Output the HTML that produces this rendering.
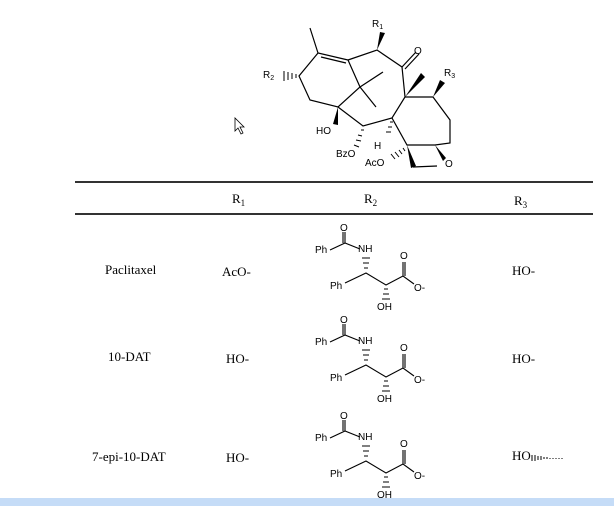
<!DOCTYPE html>
<html><head><style>
html,body{margin:0;padding:0;background:#fff;width:614px;height:506px;overflow:hidden}
svg{display:block}
.t{font-family:"Liberation Serif",serif;font-size:13px;fill:#000}
.s{font-family:"Liberation Sans",sans-serif;font-size:10px;fill:#000}
</style></head><body>
<svg width="614" height="506" viewBox="0 0 614 506">
<g stroke="#000" stroke-width="1.2" fill="none">
<path d="M310 28 L318 53 L348 60"/>
<path d="M321 57 L346 63"/>
<path d="M318 53 L299 76 L310 100 L338 107 L360 87 L348 60"/>
<path d="M360 87 L383 72 M360 87 L376 107"/>
<path d="M338 107 L363 126 L392 118 L405 97 L402 67 L377 50 L348 60"/>
<path d="M402 67 L416 52 M405 69 L419 54"/>
<path d="M405 97 L433 97 L450 120 L450 143 L435 145 L407 145 L392 118"/>
<path d="M413 167 L437 166"/>
</g>
<g fill="#000">
<polygon points="377,50 380,32 385,33"/>
<polygon points="405,97 421,73 425,77"/>
<polygon points="433,97 440,80 445,83"/>
<polygon points="338,107 333,124 338,125"/>
<polygon points="407,145 411,168 416,166"/>
<polygon points="435,145 446,158 443,161"/>
</g>
<g stroke="#000" stroke-width="1">
<path d="M296 74 L296 78 M292 73 L292 79 M288 72 L288 80 M284 71 L284 81"/>
<path d="M361 130 L364 130 M358 135 L362 136 M356 140 L361 141 M354 145 L359 147"/>
<path d="M390 122 L393 122 M388 127 L392 127 M386 132 L391 132"/>
<path d="M403 148 L405 151 M399 150 L402 154 M395 152 L399 157 M391 154 L395 159"/>
</g>
<text class="s" x="372" y="27">R<tspan font-size="7" dy="2">1</tspan></text>
<text class="s" x="414" y="54">O</text>
<text class="s" x="444" y="76">R<tspan font-size="7" dy="2">3</tspan></text>
<text class="s" x="263" y="78">R<tspan font-size="7" dy="2">2</tspan></text>
<text class="s" x="316" y="134">HO</text>
<text class="s" x="374" y="149">H</text>
<text class="s" x="336" y="157">BzO</text>
<text class="s" x="365" y="166">AcO</text>
<text class="s" x="445" y="167">O</text>
<path d="M235 118 L235 131 L238 128 L241 134 L243 133 L240 127 L244 127 Z" fill="#fff" stroke="#000" stroke-width="0.8"/>
<rect x="75" y="181" width="518" height="2" fill="#333"/>
<rect x="75" y="213" width="518" height="2" fill="#333"/>
<text class="t" x="232" y="203">R<tspan font-size="9" dy="3">1</tspan></text>
<text class="t" x="364" y="203">R<tspan font-size="9" dy="3">2</tspan></text>
<text class="t" x="514" y="205">R<tspan font-size="9" dy="3">3</tspan></text>
<text class="t" x="105" y="274">Paclitaxel</text>
<text class="t" x="222" y="276">AcO-</text>
<text class="t" x="512" y="275">HO-</text>
<text class="t" x="108" y="361">10-DAT</text>
<text class="t" x="226" y="363">HO-</text>
<text class="t" x="512" y="363">HO-</text>
<text class="t" x="92" y="461">7-epi-10-DAT</text>
<text class="t" x="226" y="462">HO-</text>
<text class="t" x="512" y="460">HO</text>
<g stroke="#000" stroke-width="1"><path d="M532 455 L532 461 M535 455 L535 461 M538 456 L538 460 M541 456 L541 460 M544 457 L544 459 M547 457 L547 459 M550 458 L550 459 M553 458 L553 459 M556 458 L556 459 M559 458 L559 459 M562 458 L562 459"/></g>
<defs>
<g id="sc">
<g stroke="#000" stroke-width="1.1" fill="none">
<path d="M330 250 L345 243 L360 249 M345 243 L345 232 M343 243 L343 232"/>
<path d="M345 283 L366 273 L386 285 L403 276 L414 284 M403 276 L403 262 M405 276 L405 262"/>
</g>
<g stroke="#000" stroke-width="1">
<path d="M364 268 L368 268 M363 263 L369 263 M362 258 L370 258"/>
<path d="M384 289 L388 289 M383 294 L389 294 M382 299 L390 299"/>
</g>
<text class="s" x="340" y="231">O</text>
<text class="s" x="315" y="253">Ph</text>
<text class="s" x="358" y="252">NH</text>
<text class="s" x="400" y="259">O</text>
<text class="s" x="330" y="289">Ph</text>
<text class="s" x="414" y="291">O-</text>
<text class="s" x="377" y="310">OH</text>
</g>
</defs>
<use href="#sc"/>
<use href="#sc" y="92"/>
<use href="#sc" y="188"/>
<rect x="0" y="498" width="614" height="8" fill="#c5dcf7"/>
</svg>
</body></html>
